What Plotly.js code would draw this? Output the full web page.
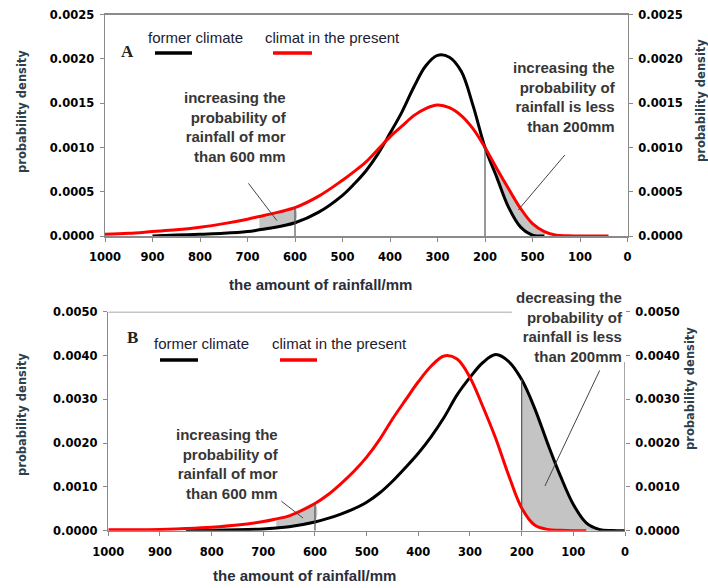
<!DOCTYPE html>
<html>
<head>
<meta charset="utf-8">
<script src="https://cdn.plot.ly/plotly-3.0.1.min.js"></script>
<style>html,body{margin:0;padding:0;background:#fff;}#chart{width:708px;height:588px;}</style>
</head>
<body>
<div id="chart"></div>
<script>
// ---------- DATA ----------
// Panel A (x positions in the axis units whose labels are printed below)
const topX = [1000, 950, 900, 850, 800, 750, 700, 675, 650, 600, 550, 500, 475, 450, 425, 400, 375, 350, 325, 300, 275, 250, 225, 200, 175, 150, 125, 100, 75, 50, 25, 0, -25, -60];
const topPresent = [0.00002, 0.00003, 0.00005, 0.00007, 0.0001, 0.00014, 0.00019, 0.00022, 0.00025, 0.00032, 0.00045, 0.00063, 0.00073, 0.00084, 0.00098, 0.00112, 0.00124, 0.00136, 0.00144, 0.00148, 0.00145, 0.00136, 0.00121, 0.001, 0.00076, 0.00053, 0.00031, 0.00014, 0.00005, 0.00001, 0.000003, 0, 0, 0];
const topFormer = [null, null, 0, 0.00001, 0.00002, 0.00003, 0.00005, 0.00007, 0.00009, 0.00015, 0.00027, 0.00046, 0.00059, 0.00074, 0.00093, 0.00116, 0.0014, 0.00168, 0.00192, 0.00204, 0.00202, 0.00186, 0.00147, 0.001, 0.00066, 0.00032, 0.0001, 0.00001, 0, null, null, null, null, null];
const topTickVals = [1000, 900, 800, 700, 600, 500, 400, 300, 200, 100, 0, -100];
const topTickText = ['1000', '900', '800', '700', '600', '500', '400', '300', '200', '500', '100', '0'];

// Panel B
const botX = [1000, 950, 900, 850, 800, 750, 700, 675, 650, 600, 575, 550, 525, 500, 475, 450, 425, 400, 375, 350, 325, 300, 275, 250, 225, 200, 175, 150, 125, 100, 75, 50, 25, 0];
const botPresent = [0.00002, 0.00002, 0.00003, 0.00005, 0.00008, 0.00013, 0.00021, 0.00027, 0.00034, 0.00062, 0.00082, 0.00107, 0.00135, 0.00168, 0.00208, 0.00255, 0.00298, 0.0034, 0.00376, 0.00399, 0.00392, 0.0035, 0.00283, 0.0021, 0.00126, 0.00052, 0.00013, 0.00003, 0.00001, 0, 0, null, null, null];
const botFormer = [null, null, null, 0, 0.00001, 0.00002, 0.00004, 0.00006, 0.00009, 0.0002, 0.00028, 0.00038, 0.0005, 0.00065, 0.00086, 0.00113, 0.00144, 0.00177, 0.00215, 0.00259, 0.0031, 0.0035, 0.00384, 0.00402, 0.00386, 0.00345, 0.0028, 0.002, 0.00125, 0.0006, 0.00018, 0.00003, 0.000005, 0];
const botTickVals = [1000, 900, 800, 700, 600, 500, 400, 300, 200, 100, 0];
const botTickText = ['1000', '900', '800', '700', '600', '500', '400', '300', '200', '100', '0'];

const seriesNames = ['former climate', 'climat in the present'];
const seriesColors = ['#000000', '#ff0000'];
const topAnnLeft = 'increasing the<br>probability of<br>rainfall of mor<br>than 600 mm';
const topAnnRight = 'increasing the<br>probability of<br>rainfall is less<br>than 200mm';
const botAnnLeft = 'increasing the<br>probability of<br>rainfall of mor<br>than 600 mm';
const botAnnRight = 'decreasing the<br>probability of<br>rainfall is less<br>than 200mm';
const xTitle = 'the amount of rainfall/mm';
const yTitle = 'probability density';

// ---------- HELPERS ----------
const W = 708, H = 588;
const px = v => v / W;
const py = v => 1 - v / H;
const valAt = (xs, ys, x) => { const i = xs.indexOf(x); return ys[i] == null ? 0 : ys[i]; };

function band(xs, upper, lower, from, to, xa, ya) {
  const fx = [], fu = [], fl = [];
  xs.forEach((x, i) => {
    if (x <= from && x >= to) {
      fx.push(x);
      fu.push(upper[i] == null ? 0 : upper[i]);
      fl.push(lower[i] == null ? 0 : lower[i]);
    }
  });
  return {
    x: fx.concat(fx.slice().reverse()),
    y: fu.concat(fl.slice().reverse()),
    xaxis: xa, yaxis: ya, mode: 'lines', fill: 'toself',
    fillcolor: '#c4c4c4', line: {width: 0, shape: 'spline', smoothing: 1},
    hoverinfo: 'skip'
  };
}
function vline(xs, ys, x, xa, ya) {
  return {x: [x, x], y: [0, valAt(xs, ys, x)], xaxis: xa, yaxis: ya, mode: 'lines',
          line: {color: '#555', width: 1.2}, hoverinfo: 'skip'};
}
function curve(xs, ys, k, xa, ya) {
  return {x: xs, y: ys, xaxis: xa, yaxis: ya, mode: 'lines', name: seriesNames[k],
          line: {color: seriesColors[k], width: 3, shape: 'spline', smoothing: 1}, connectgaps: false};
}

const traces = [
  band(topX, topPresent, topFormer, 675, 600, 'x', 'y'),
  band(topX, topPresent, topFormer, 200, 75, 'x', 'y'),
  curve(topX, topFormer, 0, 'x', 'y'),
  curve(topX, topPresent, 1, 'x', 'y'),
  vline(topX, topPresent, 600, 'x', 'y2'),
  vline(topX, topFormer, 200, 'x', 'y2'),
  band(botX, botPresent, botFormer, 675, 600, 'x2', 'y3'),
  band(botX, botFormer, botPresent, 200, 50, 'x2', 'y3'),
  curve(botX, botFormer, 0, 'x2', 'y3'),
  curve(botX, botPresent, 1, 'x2', 'y3'),
  vline(botX, botPresent, 600, 'x2', 'y4'),
  vline(botX, botFormer, 200, 'x2', 'y4')
];

const tickFont = {family: 'DejaVu Sans, sans-serif', size: 11.5, weight: 'bold', color: '#000'};
const axisGray = '#8a8a8a';
const baseX = {showgrid: false, zeroline: false, ticks: 'outside', ticklen: 4, tickcolor: axisGray,
               showline: true, linecolor: axisGray, linewidth: 1.5, tickfont: tickFont, tickmode: 'array',
               ticklabelstandoff: 6, fixedrange: true};
const baseY = {showgrid: false, zeroline: false, ticks: 'outside', ticklen: 4, tickcolor: axisGray,
               linecolor: axisGray, linewidth: 1.5, tickfont: tickFont, tickformat: '.4f', fixedrange: true,
               ticklabelstandoff: 3};

const annFont = {family: 'Liberation Sans, Arial, sans-serif', size: 15, weight: 'bold', color: '#363636'};
const legFont = {family: 'Liberation Sans, Arial, sans-serif', size: 15, color: '#1c2030'};
const titleFont = {family: 'Liberation Sans, Arial, sans-serif', size: 15, weight: 'bold', color: '#2a2d3a'};
const yTitleFont = {family: 'DejaVu Sans, sans-serif', size: 11.5, weight: 'bold', color: '#2c3f4c'};

function textAnn(x, y, text, font, xanchor, align, angle) {
  return {xref: 'paper', yref: 'paper', x: px(x), y: py(y), text: text, font: font, showarrow: false,
          xanchor: xanchor, yanchor: 'middle', align: align || 'center', textangle: angle || 0};
}

const annotations = [
  textAnn(289, 127, topAnnLeft, annFont, 'right', 'right'),
  textAnn(618, 97, topAnnRight, annFont, 'right', 'right'),
  textAnn(281, 464, botAnnLeft, annFont, 'right', 'right'),
  textAnn(625, 327, botAnnRight, annFont, 'right', 'right'),
  textAnn(320, 285, xTitle, titleFont, 'center'),
  textAnn(304, 575, xTitle, titleFont, 'center'),
  textAnn(22, 112, yTitle, yTitleFont, 'center', 'center', -90),
  textAnn(701, 101, yTitle, yTitleFont, 'center', 'center', -90),
  textAnn(22, 415, yTitle, yTitleFont, 'center', 'center', -90),
  textAnn(690, 389, yTitle, yTitleFont, 'center', 'center', -90),
  textAnn(127, 51, 'A', {family: 'Liberation Serif, serif', size: 17, weight: 'bold', color: '#222'}, 'center'),
  textAnn(132, 337, 'B', {family: 'Liberation Serif, serif', size: 17, weight: 'bold', color: '#222'}, 'center'),
  textAnn(146, 37, seriesNames[0], legFont, 'left'),
  textAnn(263, 37, seriesNames[1], legFont, 'left'),
  textAnn(152, 343, seriesNames[0], legFont, 'left'),
  textAnn(270, 343, seriesNames[1], legFont, 'left')
];

function legLine(x0, x1, y, color) {
  return {type: 'line', xref: 'paper', yref: 'paper', x0: px(x0), x1: px(x1), y0: py(y), y1: py(y),
          line: {color: color, width: 3.5}};
}
const pointer = {color: '#444', width: 1};
const shapes = [
  legLine(155, 192, 53, seriesColors[0]),
  legLine(273, 312, 53, seriesColors[1]),
  legLine(160, 198, 360, seriesColors[0]),
  legLine(280, 317, 360, seriesColors[1]),
  {type: 'line', xref: 'x', yref: 'y', x0: 698, y0: 0.000595, x1: 638, y1: 0.000173, line: pointer},
  {type: 'line', xref: 'x', yref: 'y', x0: 32, y0: 0.000915, x1: 130, y1: 0.000294, line: pointer},
  {type: 'line', xref: 'x2', yref: 'y3', x0: 665, y0: 0.000674, x1: 623, y1: 0.000288, line: pointer},
  {type: 'line', xref: 'x2', yref: 'y3', x0: 49, y0: 0.00366, x1: 155, y1: 0.00102, line: pointer},
  // bottom panel frame pieces (top border stops at the annotation, right border starts below it)
  {type: 'line', xref: 'x2', yref: 'y3', x0: 1000, x1: 219, y0: 0.005, y1: 0.005, line: {color: axisGray, width: 1.5}},
  {type: 'line', xref: 'x2', yref: 'y3', x0: 0, x1: 0, y0: 0, y1: 0.00385, line: {color: axisGray, width: 1.5}}
];

const layout = {
  width: W, height: H, margin: {l: 0, r: 0, t: 0, b: 0},
  paper_bgcolor: '#fff', plot_bgcolor: '#fff', showlegend: false,
  xaxis: Object.assign({}, baseX, {domain: [px(105), px(627.5)], range: [1000, -100], anchor: 'y',
          tickvals: topTickVals, ticktext: topTickText, mirror: true}),
  yaxis: Object.assign({}, baseY, {domain: [py(236), py(14.7)], range: [0, 0.0025], dtick: 0.0005,
          anchor: 'x', showline: true}),
  yaxis2: Object.assign({}, baseY, {domain: [py(236), py(14.7)], range: [0, 0.0025], dtick: 0.0005,
          anchor: 'x', overlaying: 'y', side: 'right', showline: true}),
  xaxis2: Object.assign({}, baseX, {domain: [px(108.3), px(625)], range: [1000, 0], anchor: 'y3',
          tickvals: botTickVals, ticktext: botTickText}),
  yaxis3: Object.assign({}, baseY, {domain: [py(530.7), py(311.7)], range: [0, 0.005], dtick: 0.001,
          anchor: 'x2', showline: true}),
  yaxis4: Object.assign({}, baseY, {domain: [py(530.7), py(311.7)], range: [0, 0.005], dtick: 0.001,
          anchor: 'x2', overlaying: 'y3', side: 'right', showline: false}),
  annotations: annotations,
  shapes: shapes
};

Plotly.newPlot('chart', traces, layout, {displayModeBar: false, staticPlot: true});
</script>
</body>
</html>
